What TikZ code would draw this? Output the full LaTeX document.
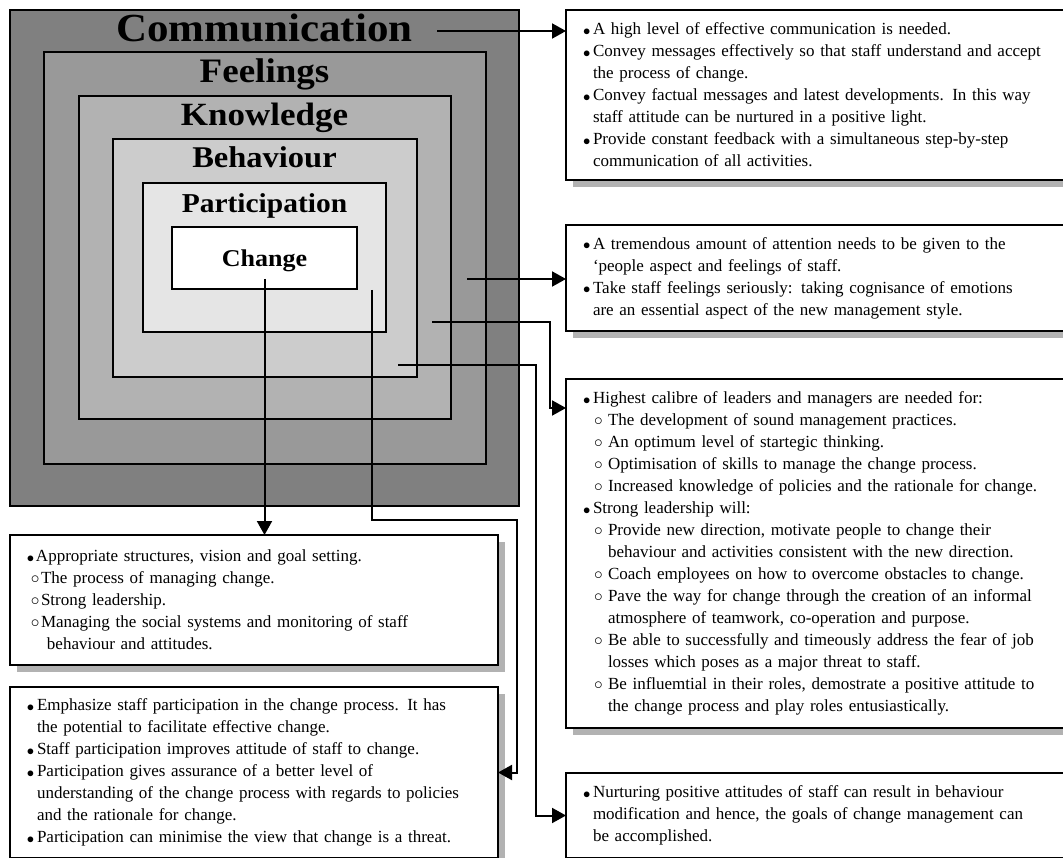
\documentclass[tikz,border=0pt]{standalone}
\usepackage{graphicx}
\usepackage{fontspec}
\setmainfont{Liberation Serif}
\newfontfamily\lblfont{Liberation Serif}[FakeStretch=1.08]
\usetikzlibrary{arrows.meta,shadows,calc}

\newcommand{\bul}[1][10pt]{\makebox[#1][l]{\raisebox{-0.7pt}{\scalebox{0.85}{$\bullet$}}}}
\newcommand{\subbul}[2][11pt]{\hspace*{#1}\makebox[#2][l]{\fontsize{16}{16}\selectfont$\circ$}}
\newcommand{\ind}[1][10pt]{\hspace*{#1}}

\tikzset{
  band/.style={draw=black, line width=2pt, inner sep=0pt, outer sep=0pt},
  lbl/.style={anchor=base, inner sep=0pt},
  note/.style={draw=black, line width=2.8pt, fill=white, align=left,
    anchor=north west, inner xsep=17pt, inner ysep=0pt, outer sep=0pt,
    font=\fontsize{17}{22}\selectfont,
    drop shadow={shadow xshift=7pt, shadow yshift=-7pt, fill=black!30, opacity=1}},
  conn/.style={line width=2pt, -{Triangle[length=14pt,width=15pt]}}
}

\begin{document}
\begin{tikzpicture}[x=1pt, y=-1pt]
  \useasboundingbox (0,0) rectangle (1063,858);
  \clip (0,0) rectangle (1063,858);
  % nested bands
  \coordinate (mid) at (264.5,258);
  \node[band, fill=black!50, minimum width=509pt, minimum height=495pt] (comm) at (mid) {};
  \node[band, fill=black!40, minimum width=442pt, minimum height=412pt] (feel) at (mid) {};
  \node[band, fill=black!30, minimum width=372pt, minimum height=323pt] (know) at (mid) {};
  \node[band, fill=black!20, minimum width=304pt, minimum height=238pt] (behav) at (mid) {};
  \node[band, fill=black!10, minimum width=243pt, minimum height=149pt] (part) at (mid) {};
  \node[band, fill=white, minimum width=185pt, minimum height=62pt] (chg) at (mid) {};
  \node[lbl, font=\lblfont\fontsize{39.8}{44}\selectfont\bfseries] (commL) at (264.5,42) {Communication};
  \node[lbl, font=\lblfont\fontsize{34.3}{38}\selectfont\bfseries] (feelL) at (264.5,83) {Feelings};
  \node[lbl, font=\lblfont\fontsize{32.4}{36}\selectfont\bfseries] (knowL) at (264.5,126) {Knowledge};
  \node[lbl, font=\lblfont\fontsize{30.1}{34}\selectfont\bfseries] (behavL) at (264.5,168) {Behaviour};
  \node[lbl, font=\lblfont\fontsize{27.3}{31}\selectfont\bfseries] (partL) at (264.5,213) {Participation};
  \node[lbl, font=\lblfont\fontsize{24.1}{28}\selectfont\bfseries] (chgL) at (264.5,267) {Change};

  % notes on the right
  \node[note, text width=480pt, minimum height=170pt] (boxA) at (566,10) {%
    \bul A high level of effective communication is needed.\\
    \bul Convey messages effectively so that staff understand and accept\\
    \ind the process of change.\\
    \bul Convey factual messages and latest developments. In this way\\
    \ind staff attitude can be nurtured in a positive light.\\
    \bul Provide constant feedback with a simultaneous step-by-step\\
    \ind communication of all activities.};
  \node[note, text width=480pt, minimum height=106pt] (boxB) at (566,225) {%
    \bul A tremendous amount of attention needs to be given to the\\
    \ind ‘people aspect and feelings of staff.\\
    \bul Take staff feelings seriously: taking cognisance of emotions\\
    \ind are an essential aspect of the new management style.};
  \node[note, text width=480pt, minimum height=349pt] (boxC) at (566,379) {%
    \bul Highest calibre of leaders and managers are needed for:\\
    \subbul{14pt}The development of sound management practices.\\
    \subbul{14pt}An optimum level of startegic thinking.\\
    \subbul{14pt}Optimisation of skills to manage the change process.\\
    \subbul{14pt}Increased knowledge of policies and the rationale for change.\\
    \bul Strong leadership will:\\
    \subbul{14pt}Provide new direction, motivate people to change their\\
    \ind[25pt]behaviour and activities consistent with the new direction.\\
    \subbul{14pt}Coach employees on how to overcome obstacles to change.\\
    \subbul{14pt}Pave the way for change through the creation of an informal\\
    \ind[25pt]atmosphere of teamwork, co-operation and purpose.\\
    \subbul{14pt}Be able to successfully and timeously address the fear of job\\
    \ind[25pt]losses which poses as a major threat to staff.\\
    \subbul{14pt}Be influemtial in their roles, demostrate a positive attitude to\\
    \ind[25pt]the change process and play roles entusiastically.};
  \node[note, text width=480pt, minimum height=85pt] (boxD) at (566,773) {%
    \bul Nurturing positive attitudes of staff can result in behaviour\\
    \ind modification and hence, the goals of change management can\\
    \ind be accomplished.};

  % notes below
  \node[note, text width=454pt, minimum height=130pt] (lbA) at (10,535) {%
    \bul[9pt]Appropriate structures, vision and goal setting.\\
    \subbul[4pt]{10pt}The process of managing change.\\
    \subbul[4pt]{10pt}Strong leadership.\\
    \subbul[4pt]{10pt}Managing the social systems and monitoring of staff\\
    \ind[20pt]behaviour and attitudes.};
  \node[note, text width=454pt, minimum height=171pt] (lbB) at (10,687) {%
    \bul Emphasize staff participation in the change process. It has\\
    \ind the potential to facilitate effective change.\\
    \bul Staff participation improves attitude of staff to change.\\
    \bul Participation gives assurance of a better level of\\
    \ind understanding of the change process with regards to policies\\
    \ind and the rationale for change.\\
    \bul Participation can minimise the view that change is a threat.};

  % connectors
  \coordinate (commS) at (437,31);
  \coordinate (feelS) at (467,279);
  \coordinate (knowS) at (432,322);
  \coordinate (behavS) at (398,365);
  \coordinate (chgS) at (264.5,279);
  \coordinate (partS) at (372,290);
  \draw[conn] (commS) -- (boxA.west |- commS);
  \draw[conn] (feelS) -- (boxB.west |- feelS);
  \draw[conn] (knowS) -| ($(boxC.north west)+(-16,29)$) -- ($(boxC.north west)+(0,29)$);
  \draw[conn] (behavS) -| ([xshift=-30pt]boxD.west) -- (boxD.west);
  \draw[conn] (chgS) -- (chgS |- lbA.north);
  \draw[conn] (partS) -- (372,520) -| ([xshift=19pt]lbB.east) -- (lbB.east);
\end{tikzpicture}
\end{document}
